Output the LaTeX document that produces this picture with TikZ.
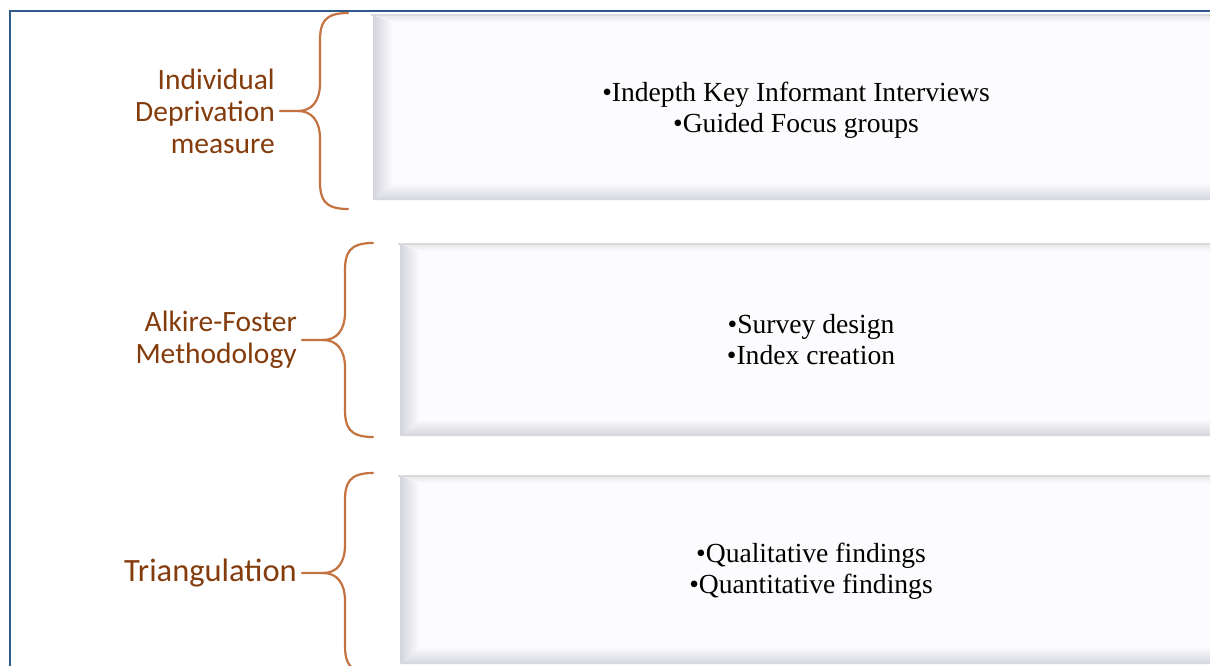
\documentclass[tikz,border=0pt]{standalone}
\usepackage{fontspec}
\usepackage{tikz}
\usetikzlibrary{positioning}
\usepackage{xcolor}

\newfontfamily\labfont{Carlito}
\newfontfamily\boxfont{Liberation Serif}

\definecolor{framecol}{HTML}{2F5A8C}
\definecolor{labcol}{HTML}{843C0C}
\definecolor{bracecol}{HTML}{C47340}
\definecolor{bevel}{HTML}{D4D4DD}
\definecolor{face}{HTML}{FCFCFE}

\begin{document}
\begin{tikzpicture}[x=1pt, y=-1pt,
        label/.style={anchor=east, inner ysep=0pt, inner xsep=5pt, align=right,
                      text=labcol, font=\labfont\fontsize{29.5}{32}\selectfont},
        item/.style={align=center, font=\boxfont\fontsize{27.6}{31}\selectfont},
        brace/.style={draw=bracecol, line width=2.2pt, line cap=round}]
        \clip (0,0) rectangle (1210,666);
        \fill[white] (0,0) rectangle (1210,666);

        % outer frame
        \draw[framecol, line width=1.6pt] (10,700) |- (1240,11);

        % bevelled boxes
        \foreach \x/\t/\b in {373/15/200, 400/244/436, 400/476/664} {
            \fill[face] (\x,\t) rectangle (1230,\b);
            \shade[left color=bevel, right color=face]
                (\x,\t) -- (\x+20,\t+8) -- (\x+20,\b-17) -- (\x,\b) -- cycle;
            \shade[top color=face, bottom color=bevel]
                (\x,\b) -- (\x+20,\b-17) -- (1230,\b-17) -- (1230,\b) -- cycle;
            \shade[top color=bevel!60, bottom color=face]
                (\x,\t) -- (1230,\t) -- (1230,\t+7) -- (\x+20,\t+7) -- cycle;
            \draw[black!15, line width=1.5pt] (\x-2,\t) -- (1230,\t);
        }

        \node[item] (t1) at (796,110) {•Indepth Key Informant Interviews\\•Guided Focus groups};
        \node[item] (t2) at (811,340) {•Survey design\\•Index creation};
        \node[item] (t3) at (811,571) {•Qualitative findings\\•Quantitative findings};

        \node[label] (idm) at (280,111) {Individual\\Deprivation\\measure};
        \node[label] (afm) at (302,340) {Alkire-Foster\\Methodology};
        \node[label, font=\labfont\fontsize{32.5}{34}\selectfont] (tri) at (302,573) {Triangulation};

        \coordinate (b1t) at (348,13);
        \coordinate (b1b) at (348,209);
        \coordinate (b2t) at (373,243);
        \coordinate (b2b) at (373,437);
        \coordinate (b3t) at (373,473);
        \coordinate (b3b) at (373,673);

        % braces
        \draw[brace] (b1t) .. controls +(-24,0) and +(0,-18) .. ++(-28,28) -- ++(0,42)
            .. controls +(0,18) and +(14,0) .. ++(-22,28) -- (idm.east);
        \draw[brace] (b1b) .. controls +(-24,0) and +(0,18) .. ++(-28,-28) -- ++(0,-42)
            .. controls +(0,-18) and +(14,0) .. ++(-22,-28);
        \draw[brace] (b2t) .. controls +(-24,0) and +(0,-18) .. ++(-28,28) -- ++(0,41)
            .. controls +(0,18) and +(14,0) .. ++(-22,28) -- (afm.east);
        \draw[brace] (b2b) .. controls +(-24,0) and +(0,18) .. ++(-28,-28) -- ++(0,-41)
            .. controls +(0,-18) and +(14,0) .. ++(-22,-28);
        \draw[brace] (b3t) .. controls +(-24,0) and +(0,-18) .. ++(-28,28) -- ++(0,44)
            .. controls +(0,18) and +(14,0) .. ++(-22,28) -- (tri.east);
        \draw[brace] (b3b) .. controls +(-24,0) and +(0,18) .. ++(-28,-28) -- ++(0,-44)
            .. controls +(0,-18) and +(14,0) .. ++(-22,-28);
\end{tikzpicture}
\end{document}
